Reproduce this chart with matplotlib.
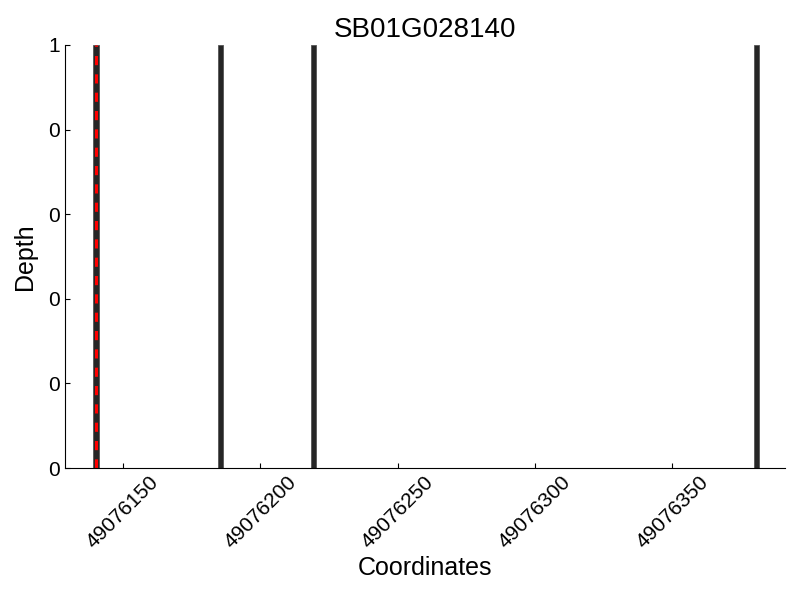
import matplotlib
matplotlib.use('Agg')
import matplotlib.pyplot as plt
from matplotlib.ticker import FormatStrFormatter

plt.rcParams['font.family'] = ['Liberation Sans', 'DejaVu Sans']

# read-depth data
gene = "SB01G028140"
positions = [49076140.2, 49076185.5, 49076219.5, 49076380.6]
depths = [1, 1, 1, 1]
marker_pos = 49076140.0
x_ticks = [49076150, 49076200, 49076250, 49076300, 49076350]
y_ticks = [0, 0.2, 0.4, 0.6, 0.8, 1.0]

fig = plt.figure(figsize=(8, 6), dpi=100)
ax = fig.add_axes([0.081, 0.22, 0.9, 0.705])

ax.bar(positions, depths, width=1.9, color='#262626', edgecolor='#555555', linewidth=0.6)
ax.axvline(marker_pos, color='red', linestyle='--', linewidth=2.2, dashes=(3, 3))

ax.set_xlim(49076128.8, 49076391)
ax.set_ylim(0, 1)
ax.set_xticks(x_ticks)
ax.set_xticklabels([str(t) for t in x_ticks], rotation=45)
ax.set_yticks(y_ticks)
ax.yaxis.set_major_formatter(FormatStrFormatter('%d'))
ax.tick_params(axis='both', direction='in', labelsize=15)

ax.spines['top'].set_visible(False)
ax.spines['right'].set_visible(False)

ax.set_title(gene, fontsize=20)
ax.set_xlabel("Coordinates", fontsize=18, labelpad=3)
ax.set_ylabel("Depth", fontsize=18, labelpad=8)

fig.savefig('out.png')
